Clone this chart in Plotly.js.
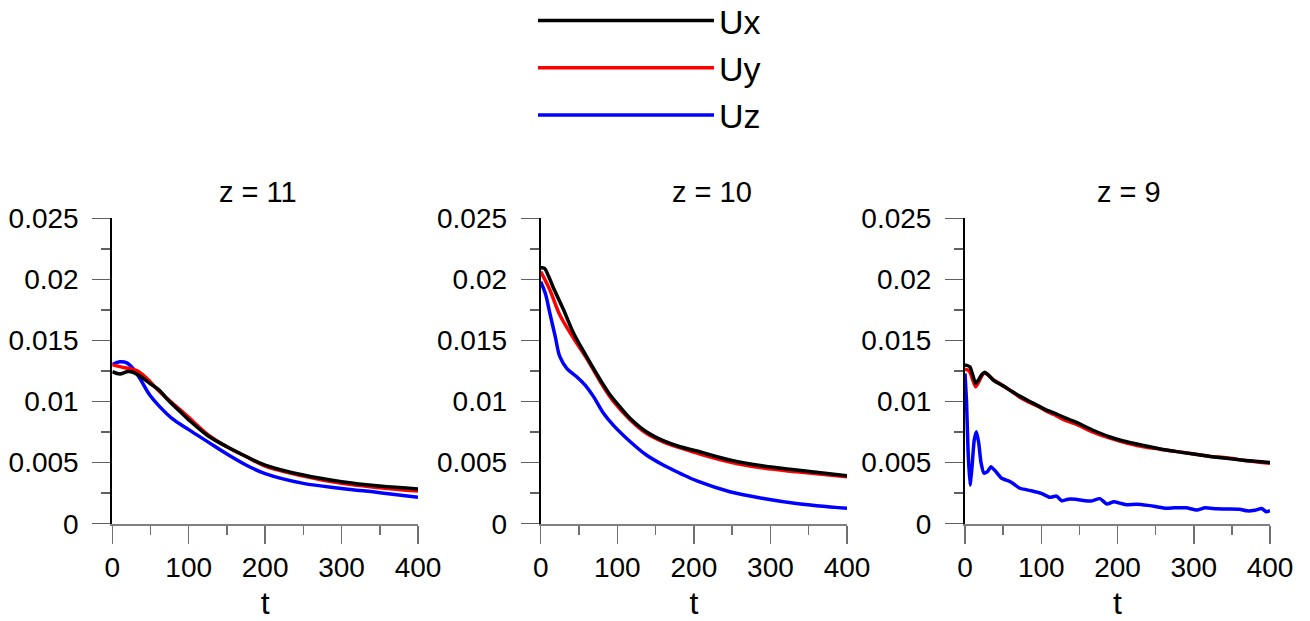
<!DOCTYPE html>
<html>
<head>
<meta charset="utf-8">
<script src="https://cdn.plot.ly/plotly-3.0.1.min.js"></script>
<style>html,body{margin:0;padding:0;background:#fff;}#chart{width:1310px;height:621px;}</style>
</head>
<body>
<div id="chart"></div>
<script>
// ---------- data ----------
const panelTitles = ["z = 11", "z = 10", "z = 9"];
const seriesNames = ["Ux", "Uy", "Uz"];
const seriesColors = ["#000000", "#ff0000", "#0000ff"];

// z = 11
const z11_t_Ux = [0,10,19,27,36,49,62,71,85,100,125,150,175,200,250,300,350,400];
const z11_Ux   = [0.01244,0.01226,0.01244,0.01240,0.01209,0.01149,0.0109,0.01025,0.0094,0.0085,0.0072,0.0063,0.0055,0.0048,0.00398,0.00344,0.00308,0.00284];
const z11_t_Uy = [0,14,32,45,62,80,93,100,125,150,175,200,250,300,350,400];
const z11_Uy   = [0.01300,0.0128,0.01253,0.0119,0.0108,0.0098,0.0091,0.0087,0.0073,0.0063,0.0055,0.00472,0.0039,0.0033,0.00295,0.00267];
const z11_t_Uz = [0,10,19,27,36,49,62,78,100,125,150,175,200,250,300,350,400];
const z11_Uz   = [0.01303,0.01326,0.01317,0.01272,0.0119,0.01053,0.00958,0.00862,0.0077,0.0067,0.0057,0.0048,0.0041,0.0033,0.00289,0.00254,0.00216];

// z = 10
const z10_t_Ux = [0,5,10,16,30,43,60,78,90,103,117,138,160,182,204,247,291,334,400];
const z10_Ux   = [0.02095,0.0209,0.0203,0.0194,0.01749,0.01559,0.01367,0.01176,0.0106,0.0096,0.00862,0.00753,0.0068,0.0063,0.00595,0.00521,0.00472,0.00439,0.00392];
const z10_t_Uy = [0,12,25,43,60,78,95,117,138,160,182,204,247,291,334,400];
const z10_Uy   = [0.02063,0.01913,0.01708,0.01518,0.01354,0.0116,0.0100,0.0085,0.0074,0.0067,0.0062,0.00578,0.00505,0.00455,0.00425,0.00385];
const z10_t_Uz = [0,6,12,19,25,34,47,58,69,82,95,117,138,160,182,204,247,291,334,400];
const z10_Uz   = [0.01981,0.01886,0.01722,0.01531,0.01367,0.01272,0.01203,0.01135,0.0104,0.00904,0.00805,0.00671,0.00562,0.0048,0.00412,0.0035,0.00262,0.00207,0.00166,0.00126];

// z = 9
const z9_t_U   = [0,3,6.5,10,14,18,22,26,30,37,45,52,62,73,85,96,107,118,130,144,168,190,212,234,256,278,300,322,343,365,400];
const z9_Ux    = [0.0130,0.01295,0.01283,0.0122,0.01149,0.0118,0.0122,0.01239,0.0122,0.01176,0.01145,0.01121,0.0108,0.0104,0.0100,0.00965,0.0093,0.00904,0.0087,0.00835,0.00765,0.0071,0.00671,0.0064,0.00612,0.0059,0.0057,0.0055,0.00535,0.0052,0.0050];
const z9_Uy    = [0.01265,0.0126,0.0124,0.0118,0.0112,0.0116,0.0121,0.01235,0.0122,0.0118,0.0115,0.0112,0.0108,0.0103,0.0099,0.0096,0.0092,0.0089,0.0085,0.0082,0.0075,0.0070,0.0066,0.0063,0.0061,0.0059,0.0057,0.0055,0.0054,0.0052,0.00495];
const z9_t_Uz  = [0,2,4,6.5,9,12,15,18,21,25,30,34,40,48,57,63,72,87,100,111,120,127,135,145,155,165,177,186,195,205,212,225,240,250,264,275,290,304,315,330,345,360,370,380,389,395,400];
const z9_Uz    = [0.0123,0.0100,0.0060,0.00317,0.0045,0.0068,0.00753,0.0066,0.0050,0.00413,0.0043,0.00467,0.0043,0.00372,0.0035,0.0033,0.0029,0.0027,0.00249,0.00216,0.00226,0.00188,0.00201,0.0020,0.0019,0.00185,0.00205,0.00161,0.0018,0.00165,0.00155,0.0016,0.0015,0.0014,0.00126,0.0013,0.0013,0.00112,0.0013,0.00122,0.0012,0.00118,0.00105,0.0011,0.00125,0.00098,0.00107];

const yTickVals = [0,0.005,0.01,0.015,0.02,0.025];
const yTickText = ["0","0.005","0.01","0.015","0.02","0.025"];
const xTickVals = [0,100,200,300,400];
const xTickText = ["0","100","200","300","400"];

// ---------- build ----------
const panels = [
  [[z11_t_Ux,z11_Ux],[z11_t_Uy,z11_Uy],[z11_t_Uz,z11_Uz]],
  [[z10_t_Ux,z10_Ux],[z10_t_Uy,z10_Uy],[z10_t_Uz,z10_Uz]],
  [[z9_t_U,z9_Ux],[z9_t_U,z9_Uy],[z9_t_Uz,z9_Uz]]
];
const order = [2,1,0]; // black drawn on top
const traces = [];
panels.forEach((p, pi) => {
  order.forEach(si => {
    traces.push({
      type: 'scatter', mode: 'lines',
      x: p[si][0], y: p[si][1],
      name: seriesNames[si],
      legendgroup: seriesNames[si],
      legendrank: si + 1,
      showlegend: pi === 0,
      line: {color: seriesColors[si], width: 3.5, shape: 'spline', smoothing: (pi === 2 ? 0.5 : 1.0)},
      xaxis: pi === 0 ? 'x' : 'x' + (pi + 1),
      yaxis: pi === 0 ? 'y' : 'y' + (pi + 1),
      hoverinfo: 'skip'
    });
  });
});

const W = 1310, H = 621;
const xPix = [[112.3, 418], [540.7, 847], [965, 1270]];
const yTop = 218.3, yBot = 523.7;
const font = "Arial, 'Liberation Sans', sans-serif";

const layout = {
  width: W, height: H,
  margin: {l: 0, r: 0, t: 0, b: 0, autoexpand: false},
  paper_bgcolor: '#fff', plot_bgcolor: '#fff',
  font: {family: font, color: '#000'},
  showlegend: true,
  legend: {
    x: 533 / W, y: 1 + 8 / H, xanchor: 'left', yanchor: 'top',
    font: {size: 34, family: font, color: '#000'},
    itemwidth: 176, bgcolor: 'rgba(0,0,0,0)', borderwidth: 0,
    traceorder: 'normal', tracegroupgap: 0
  },
  annotations: []
};

xPix.forEach((xp, i) => {
  const sfx = i === 0 ? '' : String(i + 1);
  layout['xaxis' + sfx] = {
    domain: [xp[0] / W, xp[1] / W],
    anchor: 'y' + sfx,
    range: [0, 400],
    tickvals: xTickVals, ticktext: xTickText,
    ticks: 'outside', ticklen: 18, tickwidth: 1.5, tickcolor: '#707070',
    minor: {tickvals: [50,150,250,350], ticks: 'outside', ticklen: 9, tickwidth: 1.5, tickcolor: '#707070'},
    showline: true, linecolor: '#808080', linewidth: 2,
    showgrid: false, zeroline: false, automargin: false,
    tickfont: {size: 28, family: font, color: '#000'},
    ticklabelstandoff: 0,
    title: {text: 't', font: {size: 32, family: font, color: '#000'}, standoff: 12}
  };
  layout['yaxis' + sfx] = {
    domain: [1 - yBot / H, 1 - yTop / H],
    anchor: 'x' + sfx,
    range: [0, 0.025],
    tickvals: yTickVals, ticktext: yTickText,
    ticks: 'outside', ticklen: 18, tickwidth: 1.5, tickcolor: '#606060',
    minor: {tickvals: [0.0025,0.0075,0.0125,0.0175,0.0225], ticks: 'outside', ticklen: 9, tickwidth: 1.5, tickcolor: '#606060'},
    showline: true, linecolor: '#000', linewidth: 2,
    showgrid: false, zeroline: false, automargin: false,
    tickfont: {size: 28, family: font, color: '#000'},
    ticklabelstandoff: 8
  };
});

const titleX = [258, 712, 1129];
panelTitles.forEach((t, i) => {
  layout.annotations.push({
    text: t, xref: 'paper', yref: 'paper',
    x: titleX[i] / W, y: 1 - 192 / H, xanchor: 'center', yanchor: 'middle',
    showarrow: false, font: {size: 29, family: font, color: '#000'}
  });
});

Plotly.newPlot('chart', traces, layout, {displayModeBar: false, staticPlot: true});
</script>
</body>
</html>
